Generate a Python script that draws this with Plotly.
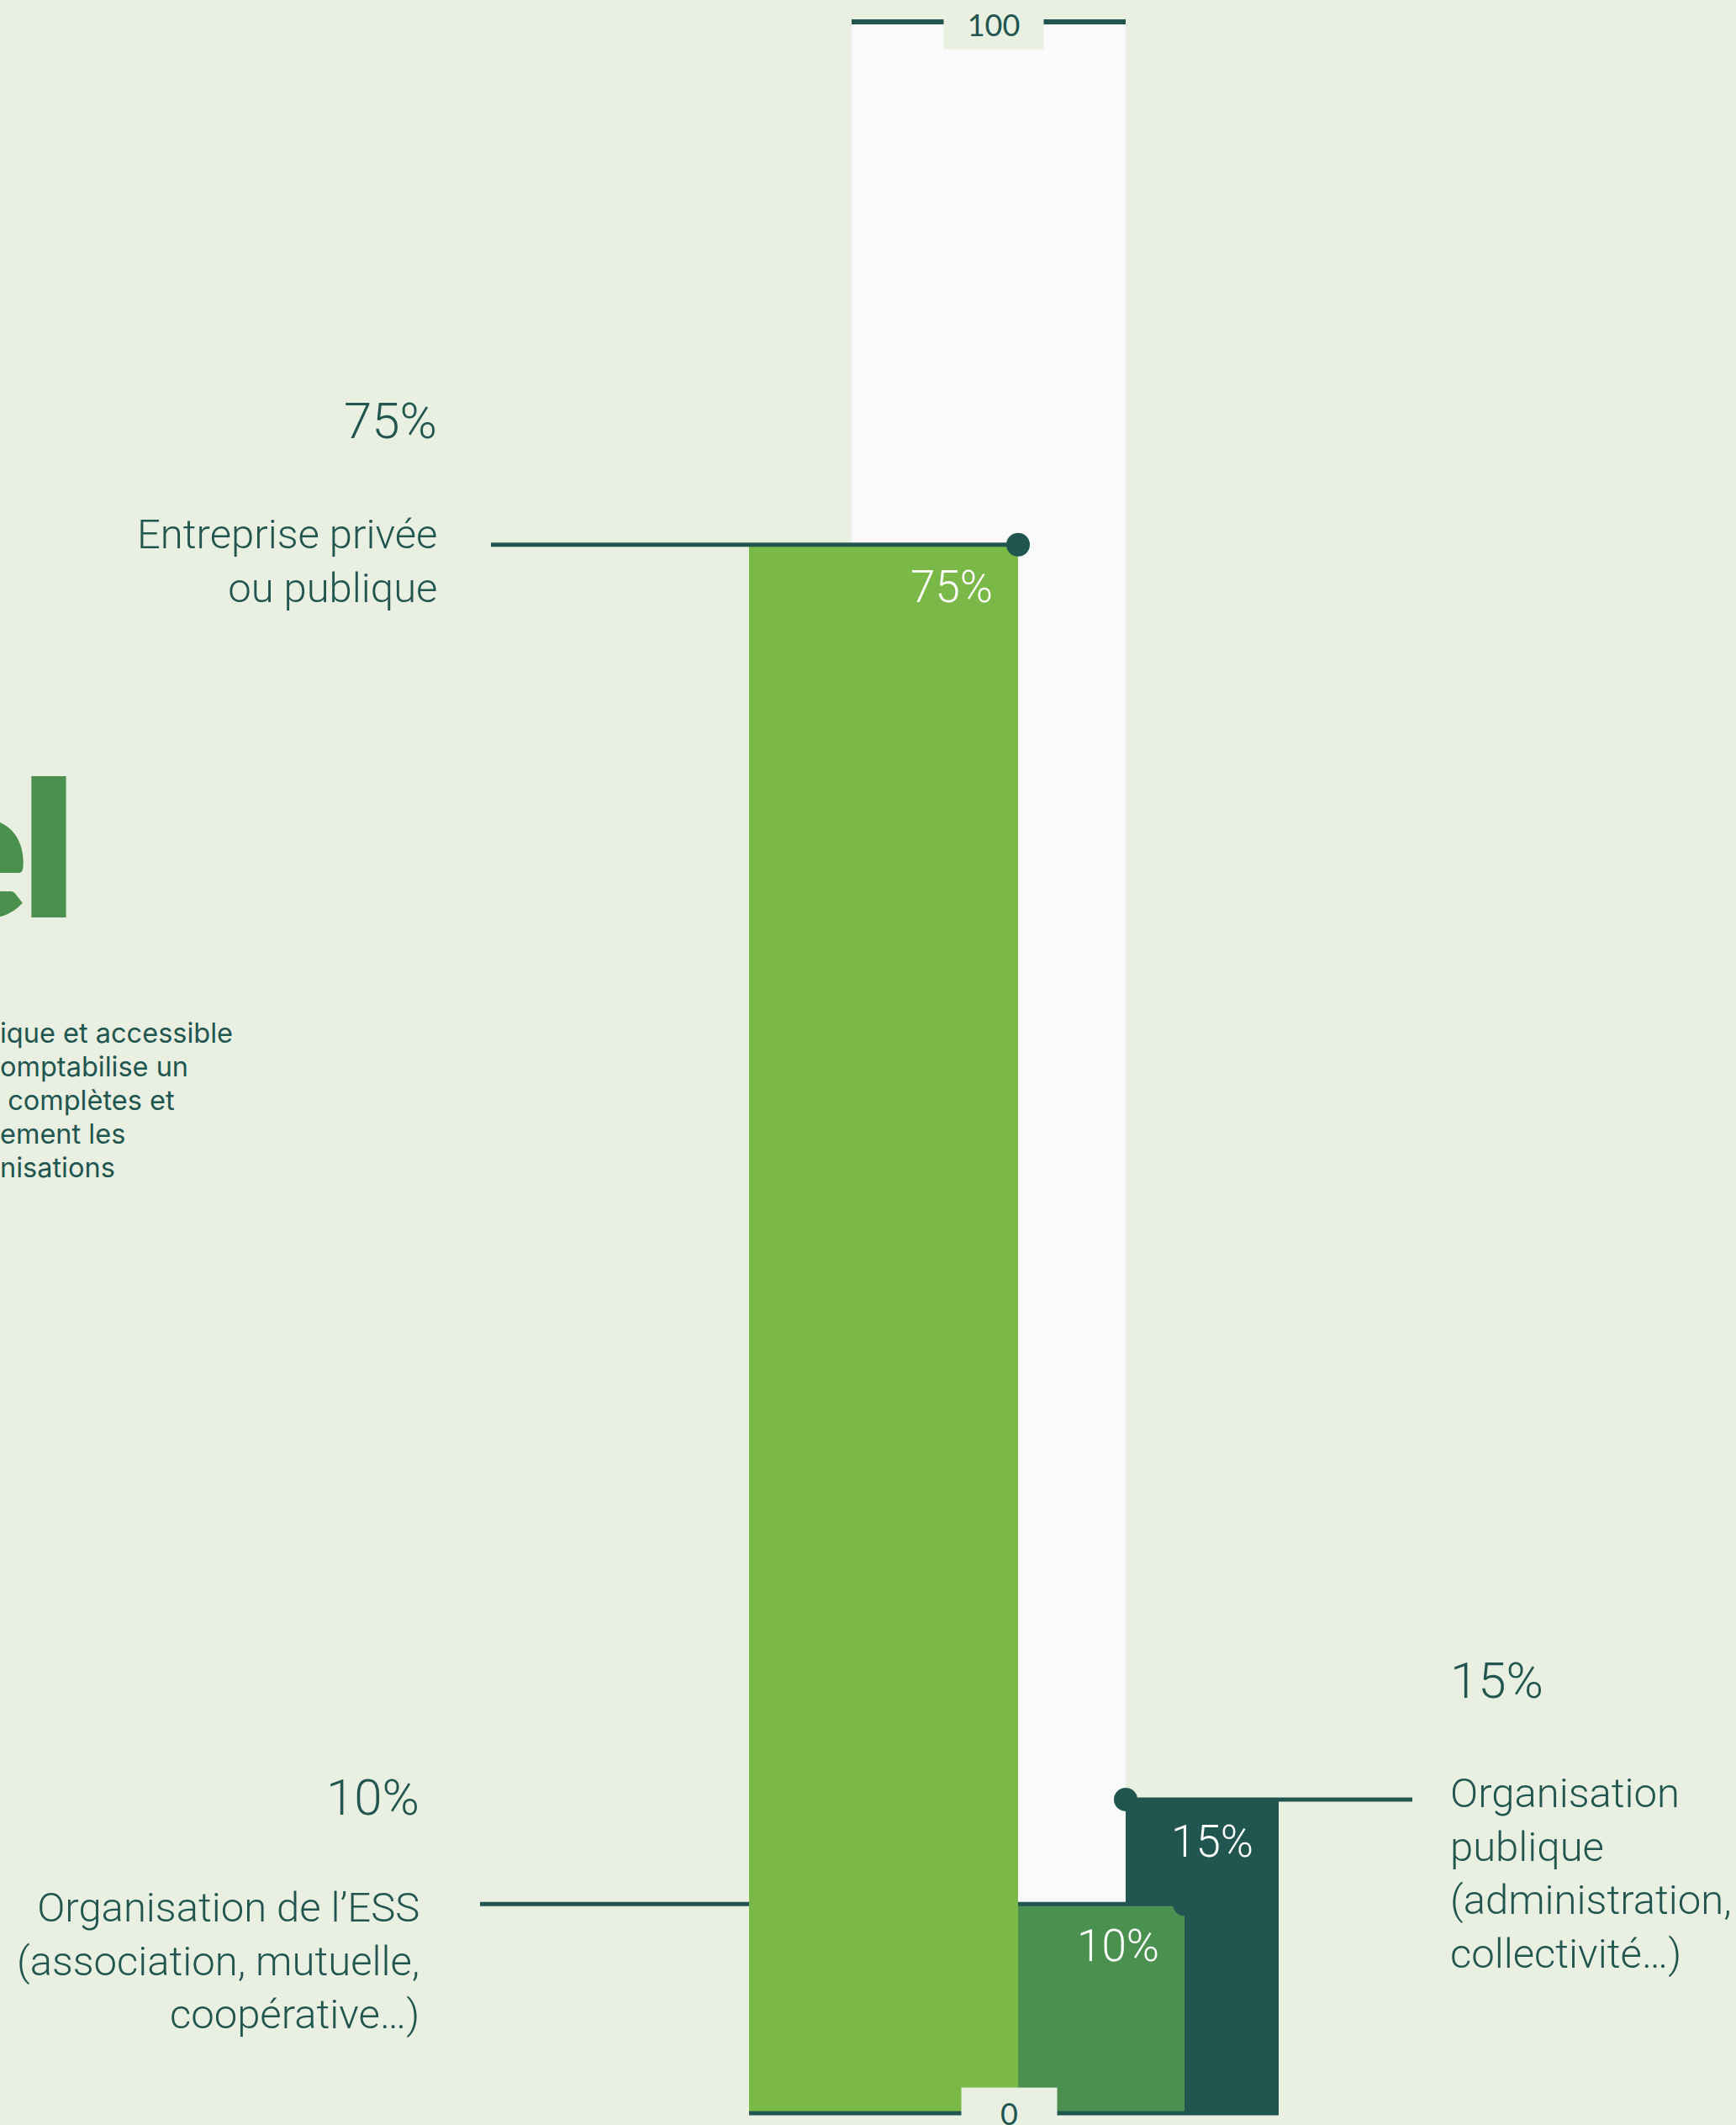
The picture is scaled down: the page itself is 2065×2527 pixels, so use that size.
import plotly.graph_objects as go

# ─── Data ────────────────────────────────────────────────
categories = ["Entreprise privée<br>ou publique",
              "Organisation de l’ESS<br>(association, mutuelle,<br>coopérative…)",
              "Organisation<br>publique<br>(administration,<br>collectivité…)"]
values = [75, 10, 15]
scale_ticks = [0, 100]
intro_lines = ["ique et accessible", "omptabilise un", "\u00a0complètes et",
               "ement les", "nisations"]

# ─── Styles / geometry (pixel units on the x axis) ───────
W, H = 2065, 2527
BG = "#EAF0E1"
TRACK = "#FAFAFA"
DARK = "#20564F"
MID = "#4A904E"
colors = ["#7AB847", MID, DARK]
bar_left = [891, 1211, 1339]
bar_right = [1211, 1409, 1521]
track_left, track_right = 1013, 1339
# leader lines: (start x, end x, dot x)
leaders = [(584, 1211, 1211), (571, 1409, 1409), (1339, 1680, 1339)]
PX_PER_UNIT = (2513 - 26) / 100
y_lo = -(H - 2513) / PX_PER_UNIT
y_hi = 100 + 26 / PX_PER_UNIT

TXT_FONT = "Roboto"
TXT_WEIGHT = 300

fig = go.Figure()

def add_bar(i, axis):
    xa, ya = axis
    fig.add_trace(go.Bar(
        x=[(bar_left[i] + bar_right[i]) / 2], y=[values[i]],
        width=[bar_right[i] - bar_left[i]],
        marker=dict(color=colors[i], line=dict(width=0)),
        xaxis=xa, yaxis=ya, hoverinfo="skip", showlegend=False))

def add_leader(i, axis):
    xa, ya = axis
    x0, x1, xd = leaders[i]
    fig.add_trace(go.Scatter(
        x=[x0, x1], y=[values[i], values[i]], mode="lines",
        line=dict(color=DARK, width=5), xaxis=xa, yaxis=ya,
        hoverinfo="skip", showlegend=False))
    fig.add_trace(go.Scatter(
        x=[xd], y=[values[i]], mode="markers",
        marker=dict(color=DARK, size=28), xaxis=xa, yaxis=ya,
        hoverinfo="skip", showlegend=False))

# layer 1: track, public bar, its leader
fig.add_trace(go.Bar(
    x=[(track_left + track_right) / 2], y=[max(scale_ticks)],
    width=[track_right - track_left], marker=dict(color=TRACK, line=dict(width=0)),
    hoverinfo="skip", showlegend=False))
add_bar(2, ("x", "y"))
fig.add_trace(go.Scatter(
    x=[track_left, track_right], y=[max(scale_ticks)] * 2, mode="lines",
    line=dict(color=DARK, width=6), hoverinfo="skip", showlegend=False))
add_leader(2, ("x", "y"))

# layer 2: ESS bar and leader
add_bar(1, ("x2", "y2"))
add_leader(1, ("x2", "y2"))

# layer 3: enterprise bar, leader, baseline
add_bar(0, ("x3", "y3"))
add_leader(0, ("x3", "y3"))
fig.add_trace(go.Scatter(
    x=[bar_left[0], bar_right[2]], y=[min(scale_ticks)] * 2, mode="lines",
    line=dict(color=DARK, width=5), xaxis="x3", yaxis="y3",
    hoverinfo="skip", showlegend=False))

# ─── Annotations ─────────────────────────────────────────
ann = []
# value labels inside bars
for i, v in enumerate(values):
    ann.append(dict(x=bar_right[i], y=v, xref="x", yref="y", text=f"{v}%",
                    xanchor="right", yanchor="middle", xshift=-28, yshift=-50,
                    showarrow=False,
                    font=dict(family=TXT_FONT, size=53, color="white", weight=TXT_WEIGHT)))

# outside labels: (x, anchor, pct yshift, label yshift)
outside = [(522, "right", 147, -20), (501, "right", 127, -68), (1723, "left", 141, -88)]
for i, (xx, anc, pshift, lshift) in enumerate(outside):
    ann.append(dict(x=xx, y=values[i], xref="x", yref="y", text=f"{values[i]}%",
                    xanchor=anc, yanchor="middle", yshift=pshift, showarrow=False,
                    font=dict(family=TXT_FONT, size=60, color=DARK, weight=TXT_WEIGHT)))
    ann.append(dict(x=xx, y=values[i], xref="x", yref="y", text=categories[i],
                    xanchor=anc, yanchor="middle", yshift=lshift, align=anc,
                    showarrow=False,
                    font=dict(family=TXT_FONT, size=49, color=DARK, weight=TXT_WEIGHT)))

# scale ticks 0 / 100 with background boxes
ann.append(dict(x=1182, y=scale_ticks[1], xref="x", yref="y", text=str(scale_ticks[1]),
                showarrow=False, bgcolor=BG, width=118, height=58, borderpad=0,
                yanchor="middle", yshift=-3, font=dict(family="Lato", size=36, color=DARK)))
ann.append(dict(x=1200, y=scale_ticks[0], xref="x", yref="y", text=str(scale_ticks[0]),
                showarrow=False, bgcolor=BG, width=113, height=60, borderpad=0,
                yanchor="middle", yshift=0, font=dict(family="Lato", size=36, color=DARK)))

# clipped page title and intro text on the left
ann.append(dict(x=89, y=1 - 1003 / H, xref="x", yref="paper", text="el",
                xanchor="right", yanchor="middle", showarrow=False,
                font=dict(family="Lato", size=226, color=MID, weight=900,
                          shadow=f"5px 0 0 {MID}, -5px 0 0 {MID}")))
for k, line in enumerate(intro_lines):
    ann.append(dict(x=0, y=1 - (1228 + 40 * k) / H, xref="paper", yref="paper",
                    text=line, xshift=-2, xanchor="left", yanchor="middle",
                    align="left", showarrow=False,
                    font=dict(family="Inter", size=32.5, color=DARK)))

axis_x = dict(range=[0, W], visible=False, fixedrange=True)
axis_y = dict(range=[y_lo, y_hi], visible=False, fixedrange=True)
fig.update_layout(
    width=W, height=H, margin=dict(l=0, r=0, t=0, b=0),
    paper_bgcolor=BG, plot_bgcolor=BG, barmode="overlay", bargap=0,
    xaxis=axis_x, yaxis=axis_y,
    xaxis2=dict(axis_x, overlaying="x"), yaxis2=dict(axis_y, overlaying="y"),
    xaxis3=dict(axis_x, overlaying="x"), yaxis3=dict(axis_y, overlaying="y"),
    annotations=ann, showlegend=False,
)

fig.write_html("out.html", config={"displayModeBar": False},
               post_script="document.body.style.margin='0';"
                           "document.body.style.background='" + BG + "';")
